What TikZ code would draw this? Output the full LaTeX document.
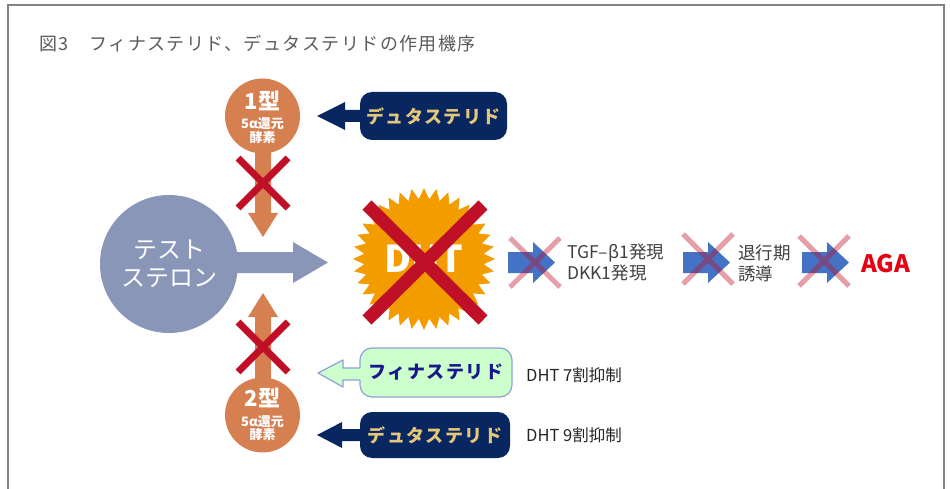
\documentclass[tikz,border=0pt]{standalone}
\usepackage{fontspec}
\setmainfont{Noto Sans CJK JP}
\newfontfamily\titlefont[LetterSpace=8]{Noto Sans CJK JP}
\newfontfamily\boxfont[LetterSpace=8]{Noto Sans CJK JP}
\definecolor{framegray}{RGB}{130,130,130}
\definecolor{titlegray}{RGB}{90,90,90}
\definecolor{testo}{RGB}{138,150,184}
\definecolor{enz}{RGB}{214,128,82}
\definecolor{xred}{RGB}{192,16,40}
\definecolor{dhtorange}{RGB}{243,156,0}
\definecolor{arrblue}{RGB}{68,114,196}
\definecolor{navy}{RGB}{8,38,96}
\definecolor{gold}{RGB}{228,200,120}
\definecolor{finfill}{RGB}{204,255,204}
\definecolor{finborder}{RGB}{142,160,214}
\definecolor{fintext}{RGB}{24,24,140}
\definecolor{textgray}{RGB}{64,64,64}
\definecolor{darktext}{RGB}{38,38,38}
\definecolor{agared}{RGB}{230,0,18}
\begin{document}
\begin{tikzpicture}[x=1pt,y=-1pt,
  bigx/.style={draw=xred,line width=7pt},
  pinkx/.style={draw=xred,draw opacity=0.4,line width=5pt},
  enzcircle/.style={circle,fill=enz,minimum size=75pt,inner sep=0pt},
  enzbig/.style={text=white,font=\bfseries\fontsize{22}{22}\selectfont,inner sep=0pt},
  enzsmall/.style={text=white,font=\bfseries\fontsize{13}{13}\selectfont,inner sep=0pt},
  dutabox/.style={fill=navy,rounded corners=12pt,minimum height=48pt,inner sep=0pt,text=gold,font=\boxfont\bfseries\fontsize{18}{20}\selectfont},
  sidetext/.style={anchor=west,text=textgray,align=left,inner sep=0pt,font=\fontsize{17.5}{21}\selectfont},
  ratetext/.style={anchor=west,text=darktext,inner sep=0pt,font=\fontsize{16.5}{18}\selectfont}]
\useasboundingbox (0,0) rectangle (950,489);
% frame
\draw[framegray,line width=1.5pt] (8,489) -- (8,5) -- (944,5) -- (944,489);
% title
\node[anchor=west,inner sep=0pt,text=titlegray,font=\titlefont\fontsize{18}{20}\selectfont] (title) at (39,43.5) {図3　フィナステリド、デュタステリドの作用機序};
% testosterone
\fill[testo] (230,252) -- (293,252) -- (293,242) -- (328,262.5) -- (293,283) -- (293,273) -- (230,273) -- cycle;
\node[circle,fill=testo,minimum size=138pt,inner sep=0pt,text=white,align=center,font=\fontsize{24}{28}\selectfont] (testo) at (169,264) {テスト\\ステロン};
% DHT starburst
\fill[dhtorange,shift={(424,259)}] (0:71) \foreach \i in {0,...,35} { -- ({\i*10+5}:60) -- ({\i*10+10}:71) } -- cycle;
\node[text=white,font=\bfseries\fontsize{37}{40}\selectfont,inner sep=0pt] (dht) at (424,259) {DHT};
\draw[xred,line width=13pt] (367,205) -- (483,320) (483,205) -- (367,320);
% chain
\foreach \x in {508,683,802} {
  \fill[arrblue] (\x,252) -- ({\x+25},252) -- ({\x+25},242) -- ({\x+47},262.5) -- ({\x+25},283) -- ({\x+25},273) -- (\x,273) -- cycle;
}
\draw[pinkx] (510,238) -- (560,287) (560,238) -- (510,287);
\draw[pinkx] (683,234) -- (733,284) (733,234) -- (683,284);
\draw[pinkx] (799,236) -- (849,286) (849,236) -- (799,286);
\node[sidetext] (tgf) at (567,262.5) {TGF–β1発現\\DKK1発現};
\node[sidetext] (taiko) at (738,263) {退行期\\誘導};
\node[anchor=west,inner sep=0pt,text=agared,font=\bfseries\fontsize{24}{26}\selectfont] (aga) at (861,264) {AGA};
% type 1 enzyme
\fill[enz] (255,140) -- (271,140) -- (271,213) -- (278,213) -- (263,237) -- (248,213) -- (255,213) -- cycle;
\node[enzcircle] (t1) at (262.5,116) {};
\node[enzbig] (t1a) at (262.5,101) {1型};
\node[enzsmall] (t1b) at (262.5,124) {5α還元};
\node[enzsmall] (t1c) at (262.5,138) {酵素};
\draw[bigx] (238,158) -- (288,208) (288,158) -- (238,208);
% type 2 enzyme
\fill[enz] (255,390) -- (271,390) -- (271,317) -- (278,317) -- (263,293) -- (248,317) -- (255,317) -- cycle;
\node[enzcircle] (t2) at (262.5,415) {};
\node[enzbig] (t2a) at (262.5,398) {2型};
\node[enzsmall] (t2b) at (262.5,422) {5α還元};
\node[enzsmall] (t2c) at (262.5,435) {酵素};
\draw[bigx] (238,322) -- (288,372) (288,322) -- (238,372);
% dutasteride top
\fill[navy] (370,110) -- (345,110) -- (345,102) -- (317,116) -- (345,130) -- (345,122) -- (370,122) -- cycle;
\node[dutabox,minimum width=147pt] (duta1) at (433.5,116) {デュタステリド};
% finasteride
\node[draw=finborder,line width=1.2pt,fill=finfill,rounded corners=12pt,minimum width=152pt,minimum height=49pt,inner sep=0pt,text=fintext,font=\boxfont\bfseries\fontsize{18}{20}\selectfont] (fina) at (436,372.5) {フィナステリド};
\fill[finfill] (361.5,368) -- (343,368) -- (343,360) -- (318,373) -- (343,387) -- (343,380) -- (361.5,380) -- cycle;
\draw[finborder,line width=1.2pt,line join=round] (360,368) -- (343,368) -- (343,360) -- (318,373) -- (343,387) -- (343,380) -- (360,380);
\node[ratetext] (r7) at (526,375) {DHT 7割抑制};
% dutasteride bottom
\fill[navy] (370,429) -- (342,429) -- (342,422) -- (317,435) -- (342,448) -- (342,441) -- (370,441) -- cycle;
\node[dutabox,minimum width=150pt,minimum height=46pt] (duta2) at (435,435) {デュタステリド};
\node[ratetext] (r9) at (526,435) {DHT 9割抑制};
\end{tikzpicture}
\end{document}
